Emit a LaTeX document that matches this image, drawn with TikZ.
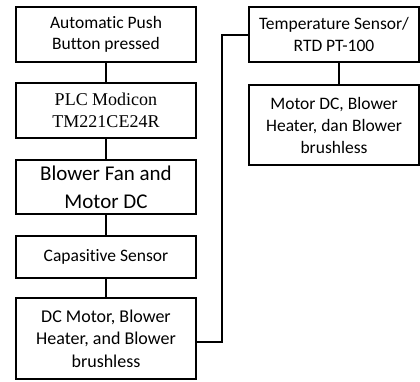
\documentclass[tikz,border=0pt]{standalone}
\usepackage{fontspec}
\setmainfont{Carlito}[Ligatures=NoCommon]
\newfontfamily\plcfont{Liberation Serif}
\usetikzlibrary{positioning}

\begin{document}
\begin{tikzpicture}[x=1pt, y=-1pt, line width=2pt]

\tikzstyle{blok}=[draw, rectangle, align=center, inner sep=0pt, font=\fontsize{17.5}{21}\selectfont]
\tikzstyle{kiri}=[blok, minimum width=180pt]
\tikzstyle{kanan}=[blok, minimum width=170pt, font=\fontsize{17.5}{22}\selectfont]
\tikzstyle{garis}=[-]

\useasboundingbox (0,0) rectangle (420,381);

\node[kiri, minimum height=55pt] (push) at (106,34.5) {Automatic Push\\Button pressed};
\node[kiri, minimum height=55pt, font=\plcfont\fontsize{18}{22}\selectfont] (plc) at (106,110.5) {PLC Modicon\\TM221CE24R};
\node[kiri, minimum height=54pt, font=\fontsize{21}{28}\selectfont] (fan) at (106,187) {Blower Fan and\\Motor DC};
\node[kiri, minimum height=42pt] (kap) at (106,257) {Capasitive Sensor};
\node[kiri, minimum height=81pt, font=\fontsize{18}{22.5}\selectfont] (dc) at (106,338.5) {DC Motor, Blower\\Heater, and Blower\\brushless};

\node[kanan, minimum height=55pt] (suhu) at (334,34.5) {Temperature Sensor/\\RTD PT-100};
\node[kanan, minimum height=80pt] (out) at (334,125) {Motor DC, Blower\\Heater, dan Blower\\brushless};

\coordinate (b1) at (222,342);
\coordinate (b2) at (222,34.5);

\draw[garis] (push) -- (plc);
\draw[garis] (plc) -- (fan);
\draw[garis] (fan) -- (kap);
\draw[garis] (kap) -- (dc);
\draw[garis] (dc.east |- b1) -- (b1) -- (b2) -- (suhu.west);
\draw[garis] (suhu.south -| 339,0) -- (out.north -| 339,0);

\end{tikzpicture}
\end{document}
